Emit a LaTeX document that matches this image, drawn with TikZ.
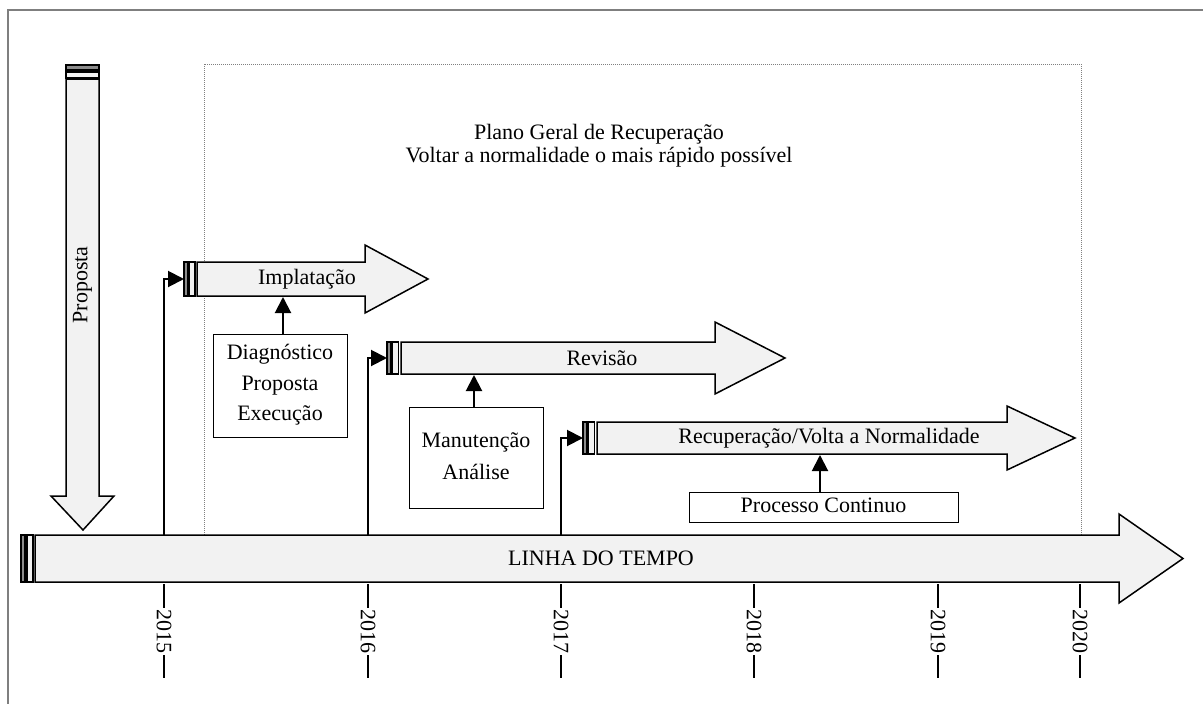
\documentclass[tikz,border=0pt]{standalone}
\usepackage{fontspec}
\setmainfont{Liberation Serif}
\usetikzlibrary{arrows.meta}
\definecolor{arrfill}{HTML}{F2F2F2}
\definecolor{stripegray}{HTML}{8C8C8C}
\definecolor{framegray}{HTML}{7F7F7F}
\begin{document}
\begin{tikzpicture}[x=1pt,y=-1pt,
 arr/.style={draw=black, line width=1.5pt, fill=arrfill, line join=miter},
 stripeA/.style={draw=black, line width=1.2pt, fill=stripegray, inner sep=0pt, outer sep=0pt},
 stripeB/.style={draw=black, line width=1.2pt, fill=arrfill, inner sep=0pt, outer sep=0pt},
 lbl/.style={font=\fontsize{22}{26}\selectfont, inner sep=0pt},
 box/.style={draw=black, line width=1pt, fill=white, inner sep=0pt, outer sep=0pt},
 boxtext/.style={align=center, inner sep=0pt},
 conn/.style={line width=2pt, -{Triangle[length=16pt,width=16pt]}},
 tickline/.style={line width=2pt},
 year/.style={rotate=-90, fill=white, inner sep=1.5pt, font=\fontsize{22}{26}\selectfont}
]
\useasboundingbox (0,0) rectangle (1203,704);
% outer frame
\draw[framegray, line width=1.5pt] (8,704) -- (8,10) -- (1203,10);
% dotted plan frame
\draw[gray, line width=1pt, dash pattern=on 1pt off 1pt] (204,64) rectangle (1081,560);
\node[lbl, align=center, font=\fontsize{22}{23}\selectfont] (title) at (599,146)
  {Plano Geral de Recuperação\\Voltar a normalidade o mais rápido possível};

% Proposta vertical arrow
\node[stripeA, minimum width=33pt, minimum height=5pt] (propA) at (82.5,67.5) {};
\node[stripeB, minimum width=33pt, minimum height=6pt] (propB) at (82.5,75) {};
\draw[arr] (66,79) -- (99,79) -- (99,496) -- (114,496) -- (83,530) -- (51,496) -- (66,496) -- cycle;
\node[lbl, rotate=90] (propT) at (82.5,285) {Proposta};

% Timeline arrow
\node[stripeA, minimum width=4pt, minimum height=47pt] (tlA) at (23,558.5) {};
\node[stripeB, minimum width=6pt, minimum height=47pt] (tlB) at (30,558.5) {};
\draw[arr] (35,535) -- (1119,535) -- (1119,514) -- (1183,558.5) -- (1119,603) -- (1119,582) -- (35,582) -- cycle;
\node[lbl] (tlT) at (601,558.5) {LINHA DO TEMPO};

% Implatacao arrow
\node[stripeA, minimum width=4pt, minimum height=34pt] (impA) at (186,279) {};
\node[stripeB, minimum width=6pt, minimum height=34pt] (impB) at (192,279) {};
\draw[arr] (197,262) -- (365,262) -- (365,245) -- (428,279) -- (365,313) -- (365,296) -- (197,296) -- cycle;
\node[lbl] (impT) at (307,279) {Implatação};
\coordinate (impBot) at (283,297);

% Revisao arrow
\node[stripeA, minimum width=4pt, minimum height=32pt] (revA) at (389,358) {};
\node[stripeB, minimum width=6pt, minimum height=32pt] (revB) at (395.5,358) {};
\draw[arr] (401,342) -- (715,342) -- (715,322) -- (785,358) -- (715,394) -- (715,374) -- (401,374) -- cycle;
\node[lbl] (revT) at (602,358) {Revisão};
\coordinate (revBot) at (474,375);

% Recuperacao arrow
\node[stripeA, minimum width=4pt, minimum height=32pt] (recA) at (585,438) {};
\node[stripeB, minimum width=6pt, minimum height=32pt] (recB) at (591.5,438) {};
\draw[arr] (597,422) -- (1007,422) -- (1007,406) -- (1075,438) -- (1007,470) -- (1007,454) -- (597,454) -- cycle;
\node[lbl] (recT) at (829,438) {Recuperação/Volta a Normalidade};
\coordinate (recBot) at (820,455);

% boxes
\node[box, minimum width=134pt, minimum height=103pt] (diag) at (280,385.5) {};
\node[lbl, boxtext, font=\fontsize{22}{30.5}\selectfont] (diagT) at (280,385) {Diagnóstico\\Proposta\\Execução};
\node[box, minimum width=134pt, minimum height=101pt] (manu) at (476,457.5) {};
\node[lbl, boxtext, font=\fontsize{22}{32}\selectfont] (manuT) at (476,456) {Manutenção\\Análise};
\node[box, minimum width=269pt, minimum height=30pt] (proc) at (823.5,507) {};
\node[lbl] (procT) at (823.5,505) {Processo Continuo};

\draw[conn] (diag.north -| impBot) -- (impBot);
\draw[conn] (manu.north -| revBot) -- (revBot);
\draw[conn] (proc.north -| recBot) -- (recBot);

% ticks and connectors
\foreach \x/\y in {164/2015, 368/2016, 561/2017, 754/2018, 938/2019, 1080/2020}{
  \coordinate (tk\y top) at (\x,584);
  \coordinate (tk\y bot) at (\x,678);
  \draw[tickline] (tk\y top) -- (tk\y bot);
  \node[year] (yr\y) at (\x,631) {\y};
}
\coordinate (c2015) at (164,535);
\coordinate (c2016) at (368,535);
\coordinate (c2017) at (561,535);
\draw[conn] (c2015) |- (impA.west);
\draw[conn] (c2016) |- (revA.west);
\draw[conn] (c2017) |- (recA.west);
\end{tikzpicture}
\end{document}
